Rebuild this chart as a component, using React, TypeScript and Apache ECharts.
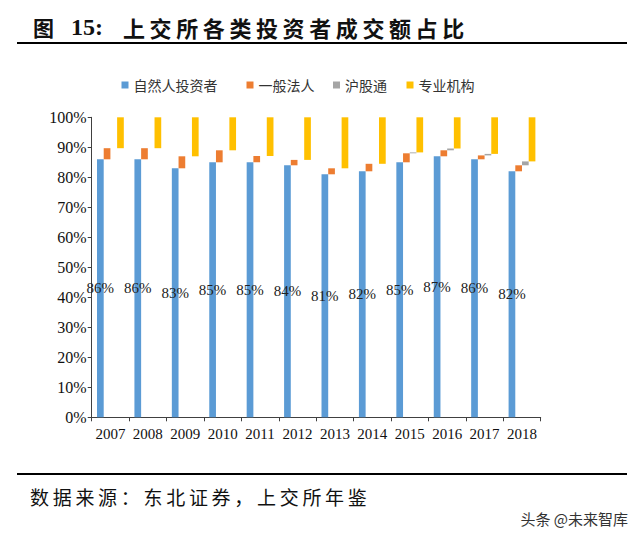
import React, { useEffect, useRef } from "react";
import * as echarts from "echarts";

// 上交所各类投资者成交额占比（%）
const YEARS = ["2007", "2008", "2009", "2010", "2011", "2012", "2013", "2014", "2015", "2016", "2017", "2018"];
const NATURAL = [86, 86, 83, 85, 85, 84, 81, 82, 85, 87, 86, 82]; // 自然人投资者
const GENERAL = [3.7, 3.7, 4.0, 4.0, 2.1, 1.8, 2.0, 2.5, 3.0, 2.0, 1.3, 2.0]; // 一般法人
const CONNECT = [0, 0, 0, 0, 0, 0, 0, 0, 0.3, 0.6, 0.5, 1.3]; // 沪股通
// 专业机构 = 剩余部分
const INSTITUTION = NATURAL.map((v, i) => +(100 - v - GENERAL[i] - CONNECT[i]).toFixed(1));

const SERIES_NAMES = ["自然人投资者", "一般法人", "沪股通", "专业机构"];
const COLORS = ["#5B9BD5", "#ED7D31", "#A5A5A5", "#FFC000"];
const Y_TICKS = [0, 10, 20, 30, 40, 50, 60, 70, 80, 90, 100];

const TITLE_PREFIX = "图";
const TITLE_NUM = "15:";
const TITLE_TEXT = "上交所各类投资者成交额占比";
const SOURCE_TEXT = "数据来源：东北证券，上交所年鉴";
const WATERMARK = "头条 @未来智库";

const CJK = "Noto Sans CJK SC";
const SERIF = "Liberation Serif";

export default function App() {
  const ref = useRef<HTMLDivElement>(null);

  useEffect(() => {
    if (!ref.current) return;
    const chart = echarts.init(ref.current, undefined, { renderer: "svg" });

    const base2 = NATURAL;
    const base3 = NATURAL.map((v, i) => v + GENERAL[i]);
    const base4 = NATURAL.map((v, i) => v + GENERAL[i] + CONNECT[i]);

    const barW = 6.7;
    const hidden = {
      type: "bar" as const,
      barWidth: barW,
      barGap: "0%",
      silent: true,
      itemStyle: { color: "transparent" },
      emphasis: { disabled: true },
      tooltip: { show: false },
    };
    const visible = (name: string, idx: number, stack: string, data: number[]) => ({
      name,
      type: "bar" as const,
      stack,
      barWidth: barW,
      barGap: "0%",
      data,
      itemStyle: { color: COLORS[idx] },
    });

    const titleChars = TITLE_TEXT.split("").map((ch, i) => ({
      type: "text",
      x: 123 + i * 26.6,
      y: 27,
      style: {
        text: ch,
        font: `bold 22px "${CJK}"`,
        fill: "#111",
        textVerticalAlign: "middle",
      },
    }));
    const sourceChars = SOURCE_TEXT.split("").map((ch, i) => ({
      type: "text",
      x: 30 + i * 22.7,
      y: 496,
      style: {
        text: ch,
        font: `19px "${CJK}"`,
        fill: "#111",
        textVerticalAlign: "middle",
      },
    }));

    const legendLefts = [121.5, 246.5, 333, 406.5];

    chart.setOption({
      animation: false,
      backgroundColor: "#ffffff",
      grid: { left: 91.7, top: 117.3, width: 449, height: 300, containLabel: false },
      legend: SERIES_NAMES.map((name, i) => ({
        data: [name],
        left: legendLefts[i],
        top: 76,
        padding: 0,
        icon: "rect",
        itemWidth: 7,
        itemHeight: 7,
        selectedMode: false,
        textStyle: { fontFamily: CJK, fontSize: 14, color: "#333", lineHeight: 18 },
      })),
      xAxis: {
        type: "category",
        data: YEARS,
        axisLine: { lineStyle: { color: "#404040", width: 1 } },
        axisTick: { show: true, length: 4, interval: 0, lineStyle: { color: "#404040" } },
        axisLabel: { interval: 0, fontFamily: SERIF, fontSize: 15, color: "#111", margin: 9 },
      },
      yAxis: {
        type: "value",
        min: 0,
        max: 100,
        interval: 10,
        axisLine: { show: true, lineStyle: { color: "#404040", width: 1 } },
        axisTick: { show: true, length: 4, lineStyle: { color: "#404040" } },
        splitLine: { show: false },
        axisLabel: {
          fontFamily: SERIF,
          fontSize: 16,
          color: "#111",
          margin: 5,
          formatter: (v: number) => (Y_TICKS.includes(v) ? `${v}%` : ""),
        },
      },
      series: [
        {
          ...visible(SERIES_NAMES[0], 0, "s1", NATURAL),
          label: {
            show: true,
            position: "inside",
            formatter: "{c}%",
            fontFamily: SERIF,
            fontSize: 15,
            color: "#222",
            textBorderWidth: 0,
          },
        },
        { ...hidden, name: "_b2", stack: "s2", data: base2 },
        visible(SERIES_NAMES[1], 1, "s2", GENERAL),
        { ...hidden, name: "_b3", stack: "s3", data: base3 },
        visible(SERIES_NAMES[2], 2, "s3", CONNECT),
        { ...hidden, name: "_b4", stack: "s4", data: base4 },
        visible(SERIES_NAMES[3], 3, "s4", INSTITUTION),
      ],
      graphic: [
        {
          type: "text",
          x: 33,
          y: 27,
          style: { text: TITLE_PREFIX, font: `bold 21px "${CJK}"`, fill: "#111", textVerticalAlign: "middle" },
        },
        {
          type: "text",
          x: 71,
          y: 27,
          style: { text: TITLE_NUM, font: `bold 24px "${SERIF}"`, fill: "#111", textVerticalAlign: "middle" },
        },
        ...titleChars,
        {
          type: "line",
          shape: { x1: 17, y1: 43, x2: 627, y2: 43 },
          style: { stroke: "#000", lineWidth: 2 },
        },
        {
          type: "line",
          shape: { x1: 17, y1: 474, x2: 627, y2: 474 },
          style: { stroke: "#000", lineWidth: 2 },
        },
        ...sourceChars,
        {
          type: "text",
          right: 12,
          y: 518,
          style: { text: WATERMARK, font: `15px "${CJK}"`, fill: "#333", textVerticalAlign: "middle" },
        },
      ],
    });

    return () => chart.dispose();
  }, []);

  return (
    <div
      ref={ref}
      style={{ position: "fixed", left: 0, top: 0, width: 640, height: 536, background: "#fff" }}
    />
  );
}
